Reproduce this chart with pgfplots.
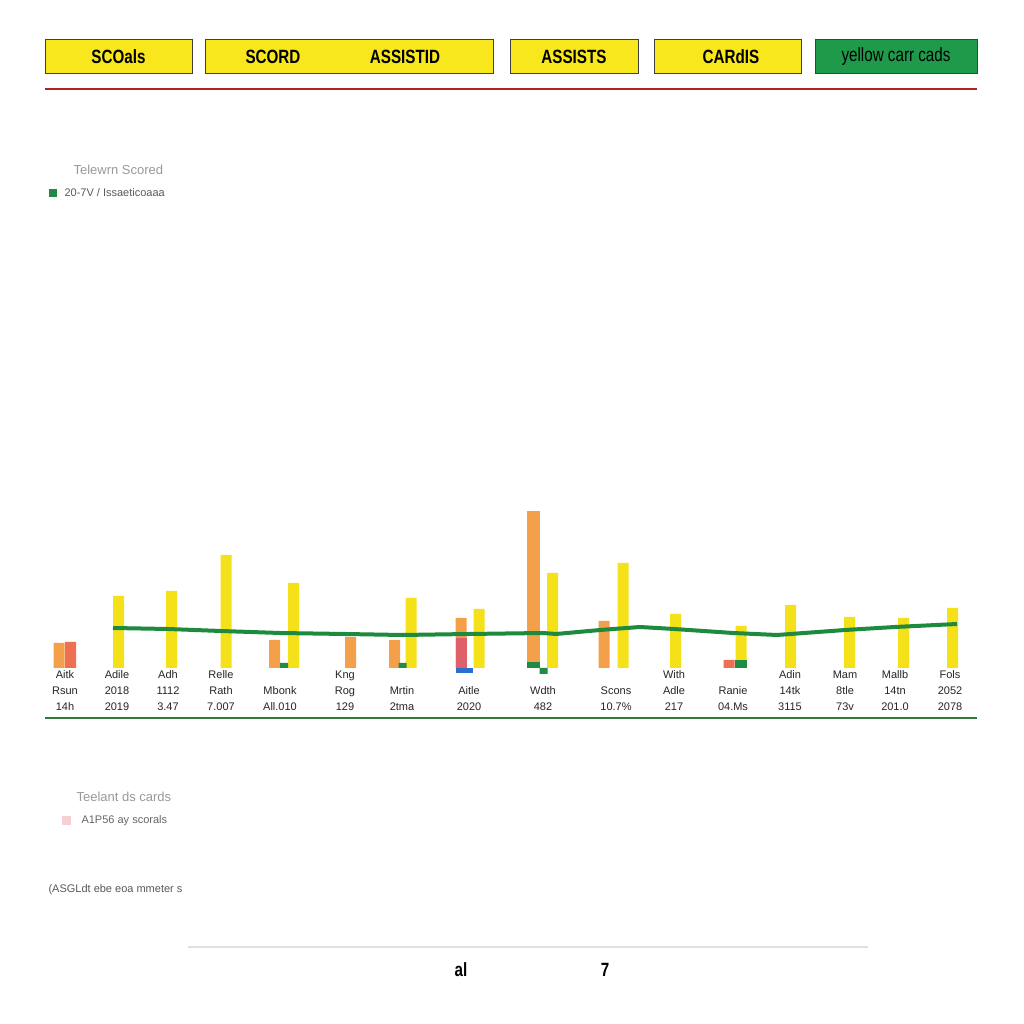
\documentclass[border=0pt]{standalone}
\usepackage{graphicx}
\usepackage{pgfplots}
\pgfplotsset{compat=1.18}
\usepackage{fontspec}
\setmainfont{Liberation Sans}
\definecolor{hyel}{HTML}{F7E71C}
\definecolor{hgreen}{HTML}{1E9A4A}
\definecolor{byel}{HTML}{F5E11A}
\definecolor{borange}{HTML}{F4A04A}
\definecolor{bredor}{HTML}{EE7050}
\definecolor{bred}{HTML}{E0606A}
\definecolor{bgreen}{HTML}{1E8C45}
\definecolor{bblue}{HTML}{2A6FD0}
\definecolor{lgreen}{HTML}{1E8A3E}
\definecolor{agreen}{HTML}{2E7D32}
\definecolor{rline}{HTML}{B22222}
\newcommand{\tall}[1]{\scalebox{0.95}[1.2]{#1}}
\begin{document}
\begin{tikzpicture}[x=1pt,y=1pt]
\fill[white] (0,0) rectangle (1024,1024);
% header boxes
\begin{scope}[font=\fontsize{16}{18}\selectfont\bfseries]
\draw[fill=hyel, draw=black!75, line width=1pt] (45,950) rectangle (192,984);
\node at (118.5,967) {\tall{SCOals}};
\draw[fill=hyel, draw=black!75, line width=1pt] (205,950) rectangle (493,984);
\node at (273,967) {\tall{SCORD}};
\node at (405,967) {\tall{ASSISTID}};
\draw[fill=hyel, draw=black!75, line width=1pt] (510,950) rectangle (638,984);
\node at (574,967) {\tall{ASSISTS}};
\draw[fill=hyel, draw=black!75, line width=1pt] (654,950) rectangle (801,984);
\node at (731,967) {\tall{CARdIS}};
\draw[fill=hgreen, draw=black!75, line width=1pt] (815,950) rectangle (977,984);
\node[font=\fontsize{16}{18}\selectfont] at (896,967) {\tall{yellow carr cads}};
\end{scope}
\draw[rline, line width=2pt] (45,935) -- (977,935);
% upper legend
\node[anchor=west, text=black!40, font=\fontsize{13}{15}\selectfont] at (70,854) {Telewrn Scored};
\fill[bgreen] (49,827) rectangle (57,835);
\node[anchor=west, text=black!65, font=\fontsize{11}{13}\selectfont] at (61,831) {20-7V / Issaeticoaaa};
% lower legend
\node[anchor=west, text=black!40, font=\fontsize{13}{15}\selectfont] at (73,227) {Teelant ds cards};
\fill[bred!30] (62,199) rectangle (71,208);
\node[anchor=west, text=black!60, font=\fontsize{11}{13}\selectfont] at (78,203) {A1P56 ay scorals};
\node[anchor=west, text=black!65, font=\fontsize{11}{13}\selectfont] at (45,134) {(ASGLdt ebe eoa mmeter s};
\draw[black!12, line width=2pt] (188,77) -- (868,77);
\node[font=\fontsize{16}{18}\selectfont\bfseries] at (461,54) {\tall{al}};
\node[font=\fontsize{16}{18}\selectfont\bfseries] at (605,54) {\tall{7}};
% main chart
\begin{axis}[
  at={(45,306)}, anchor=south west,
  scale only axis, width=932pt, height=218pt,
  xmin=45, xmax=977, ymin=-5, ymax=16.8,
  axis x line=bottom, axis y line=none,
  x axis line style={-, draw=agreen, line width=2.5pt},
  ytick=\empty,
  major tick length=0pt,
  xtick={65,117,168,221,280,345,402,469,543,616,674,733,790,845,895,950},
  xticklabels={{Aitk\\Rsun\\14h},{Adile\\2018\\2019},{Adh\\1112\\3.47},{Relle\\Rath\\7.007},
    {Mbonk\\All.010},{Kng\\Rog\\129},{Mrtin\\2tma},{Aitle\\2020},{Wdth\\482},{Scons\\10.7\%},
    {With\\Adle\\217},{Ranie\\04.Ms},{Adin\\14tk\\3115},{Mam\\8tle\\73v},{Mallb\\14tn\\201.0},{Fols\\2052\\2078}},
  xticklabel style={anchor=south, yshift=4pt, align=center, text=black!85,
    font=\fontsize{11}{16}\selectfont},
  clip=false,
]
\addplot[ybar, bar width=11pt, fill=borange, draw=none] coordinates
  {(59,2.5) (274.5,2.8) (350.5,3.1) (394.5,2.8) (461,5.0) (604,4.7)};
\addplot[ybar, bar width=13pt, fill=borange, draw=none] coordinates {(533.5,15.7)};
\addplot[ybar, bar width=11pt, fill=bredor, draw=none] coordinates {(70.5,2.6) (729,0.8)};
\addplot[ybar, bar width=11pt, fill=bred, draw=none] coordinates {(461,3.0)};
\addplot[ybar, bar width=11pt, fill=byel, draw=none] coordinates
  {(118.5,7.2) (171.5,7.7) (226,11.3) (293.5,8.5) (411,7.0) (479,5.9) (552.5,9.5)
   (623,10.5) (675.5,5.4) (741,4.2) (790.5,6.3) (849.5,5.1) (903.5,5.0) (952.5,6.0)};
\addplot[ybar, bar width=8pt, fill=bgreen, draw=none] coordinates {(284,0.5) (402.5,0.5) (543.5,-0.6)};
\addplot[ybar, bar width=13pt, fill=bgreen, draw=none] coordinates {(533.5,0.6)};
\addplot[ybar, bar width=12pt, fill=bgreen, draw=none] coordinates {(741,0.8)};
\addplot[ybar, bar width=17pt, fill=bblue, draw=none] coordinates {(464,-0.5)};
\addplot[lgreen, line width=4pt, mark=none] coordinates
  {(113,4.0) (168,3.9) (221,3.7) (280,3.5) (345,3.4) (402,3.3) (469,3.4) (543,3.5)
   (556,3.4) (600,3.8) (640,4.1) (674,3.9) (733,3.5) (777,3.3) (845,3.8) (895,4.1) (957,4.4)};
\end{axis}
\end{tikzpicture}
\end{document}
